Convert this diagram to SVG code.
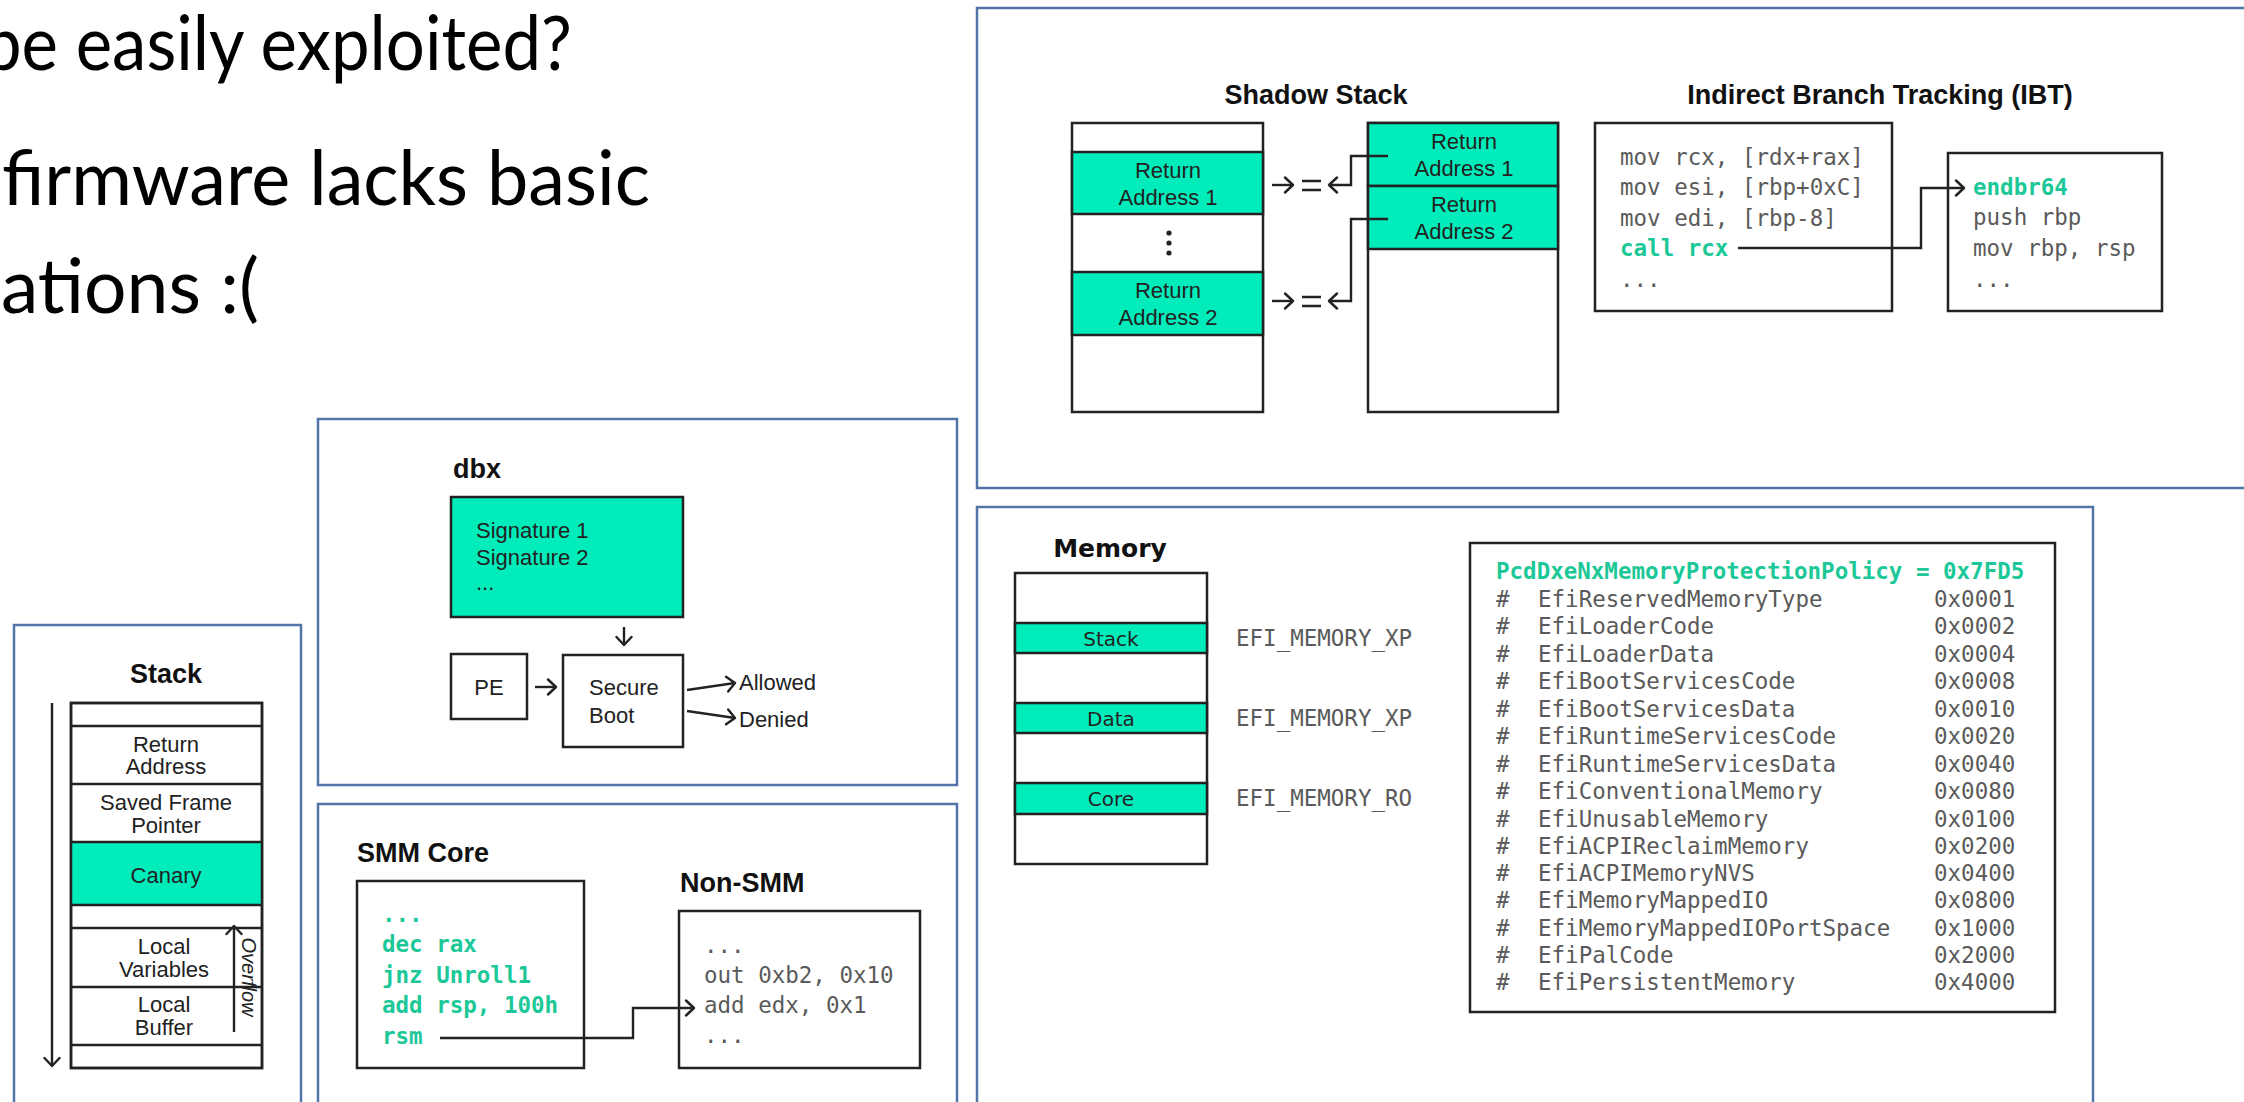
<svg xmlns="http://www.w3.org/2000/svg" width="2244" height="1102" viewBox="0 0 2244 1102">
<defs>
<marker id="arr" viewBox="0 0 16 18" refX="14" refY="9" markerWidth="16" markerHeight="18" markerUnits="userSpaceOnUse" orient="auto">
<path d="M6,1.5 L14,9 L6,16.5" fill="none" stroke="#222" stroke-width="2.4" stroke-linecap="round" stroke-linejoin="round"/>
</marker>
</defs>
<style>
.panel{fill:#fff;stroke:#5374a6;stroke-width:2.5}
.box{fill:#fff;stroke:#222;stroke-width:2.5}
.gbox{fill:#00EDBB;stroke:#222;stroke-width:2.5}
.sep{stroke:#222;stroke-width:2.5}
.big{font-family:Lato,"Open Sans",sans-serif;font-size:76px;fill:#000}
.ttl{font-family:"Liberation Sans",Arial,sans-serif;font-weight:bold;font-size:27px;fill:#111}
.lbl{font-family:"Liberation Sans",Arial,sans-serif;font-size:22px;fill:#222}
.mid{text-anchor:middle}
.mono{font-family:"DejaVu Sans Mono","Liberation Mono",monospace;font-size:22.5px;fill:#5a5a5a}
.gmono{font-family:"DejaVu Sans Mono","Liberation Mono",monospace;font-size:22.5px;font-weight:bold;fill:#1cc897}
.vlbl{font-family:"DejaVu Sans",Verdana,sans-serif;font-size:20px;fill:#222}
.vttl{font-family:"DejaVu Sans",Verdana,sans-serif;font-size:25px;font-weight:bold;fill:#111}
.con{fill:none;stroke:#222;stroke-width:2.4}
</style>
<rect width="2244" height="1102" fill="#fff"/>

<g id="heading">
<text class="big" x="-17" y="70" textLength="589" lengthAdjust="spacingAndGlyphs">be easily exploited?</text>
<text class="big" x="2" y="205" textLength="648" lengthAdjust="spacingAndGlyphs">firmware lacks basic</text>
<text class="big" x="1" y="313" textLength="258" lengthAdjust="spacingAndGlyphs">ations :(</text>
</g>

<g id="panel-stack">
<rect class="panel" x="14" y="625" width="287" height="500"/>
<text class="ttl mid" x="166" y="683">Stack</text>
<rect class="box" x="71" y="703" width="191" height="365"/>
<rect x="71" y="842" width="191" height="63" fill="#00EDBB"/>
<line class="sep" x1="71" y1="726" x2="262" y2="726"/>
<line class="sep" x1="71" y1="784" x2="262" y2="784"/>
<line class="sep" x1="71" y1="842" x2="262" y2="842"/>
<line class="sep" x1="71" y1="905" x2="262" y2="905"/>
<line class="sep" x1="71" y1="928" x2="262" y2="928"/>
<line class="sep" x1="71" y1="987" x2="262" y2="987"/>
<line class="sep" x1="71" y1="1045" x2="262" y2="1045"/>
<rect x="71" y="703" width="191" height="365" fill="none" stroke="#222" stroke-width="2.5"/>
<text class="lbl mid" x="166" y="752">Return</text>
<text class="lbl mid" x="166" y="774">Address</text>
<text class="lbl mid" x="166" y="810">Saved Frame</text>
<text class="lbl mid" x="166" y="833">Pointer</text>
<text class="lbl mid" x="166" y="883">Canary</text>
<text class="lbl mid" x="164" y="954">Local</text>
<text class="lbl mid" x="164" y="977">Variables</text>
<text class="lbl mid" x="164" y="1012">Local</text>
<text class="lbl mid" x="164" y="1035">Buffer</text>
<text transform="translate(242,977) rotate(90)" text-anchor="middle" font-family="Liberation Sans, Arial, sans-serif" font-style="italic" font-size="20" fill="#222">Overflow</text>
</g>

<g id="panel-dbx">
<rect class="panel" x="318" y="419" width="639" height="366"/>
<text class="ttl" x="453" y="478">dbx</text>
<rect class="gbox" x="451" y="497" width="232" height="120"/>
<text class="lbl" x="476" y="538">Signature 1</text>
<text class="lbl" x="476" y="565">Signature 2</text>
<text class="lbl" x="476" y="590" font-size="16">...</text>
<g id="node-pe">
<rect class="box" x="451" y="654" width="76" height="65"/>
<text class="lbl mid" x="489" y="695">PE</text>
</g>
<g id="node-secureboot">
<rect class="box" x="563" y="655" width="120" height="92"/>
<text class="lbl" x="589" y="695">Secure</text>
<text class="lbl" x="589" y="723">Boot</text>
</g>
<text class="lbl" x="739" y="690">Allowed</text>
<text class="lbl" x="739" y="727">Denied</text>
</g>

<g id="panel-smm">
<rect class="panel" x="318" y="804" width="639" height="320"/>
<text class="ttl" x="357" y="862">SMM Core</text>
<rect class="box" x="357" y="881" width="227" height="187"/>
<text class="gmono" x="382" y="922">...</text>
<text class="gmono" x="382" y="952">dec rax</text>
<text class="gmono" x="382" y="983">jnz Unroll1</text>
<text class="gmono" x="382" y="1013">add rsp, 100h</text>
<text class="gmono" x="382" y="1044">rsm</text>
<text class="ttl" x="680" y="892">Non-SMM</text>
<rect class="box" x="679" y="911" width="241" height="157"/>
<text class="mono" x="704" y="953">...</text>
<text class="mono" x="704" y="983">out 0xb2, 0x10</text>
<text class="mono" x="704" y="1013">add edx, 0x1</text>
<text class="mono" x="704" y="1043">...</text>
</g>

<g id="panel-cet">
<rect class="panel" x="977" y="8" width="1290" height="480"/>
<text class="ttl mid" x="1316" y="104">Shadow Stack</text>
<g id="node-stack-left">
<rect class="box" x="1072" y="123" width="191" height="289"/>
<rect class="gbox" x="1072" y="152" width="191" height="62"/>
<rect class="gbox" x="1072" y="272" width="191" height="63"/>
<text class="lbl mid" x="1168" y="178">Return</text>
<text class="lbl mid" x="1168" y="205">Address 1</text>
<circle cx="1169" cy="233" r="2.6" fill="#222"/>
<circle cx="1169" cy="243" r="2.6" fill="#222"/>
<circle cx="1169" cy="253" r="2.6" fill="#222"/>
<text class="lbl mid" x="1168" y="298">Return</text>
<text class="lbl mid" x="1168" y="325">Address 2</text>
</g>
<g id="node-stack-shadow">
<rect class="box" x="1368" y="123" width="190" height="289"/>
<rect class="gbox" x="1368" y="123" width="190" height="63"/>
<rect class="gbox" x="1368" y="186" width="190" height="63"/>
<text class="lbl mid" x="1464" y="149">Return</text>
<text class="lbl mid" x="1464" y="176">Address 1</text>
<text class="lbl mid" x="1464" y="212">Return</text>
<text class="lbl mid" x="1464" y="239">Address 2</text>
</g>
<text class="ttl mid" x="1880" y="104">Indirect Branch Tracking (IBT)</text>
<g id="node-ibt-caller">
<rect class="box" x="1595" y="123" width="297" height="188"/>
<text class="mono" x="1620" y="165">mov rcx, [rdx+rax]</text>
<text class="mono" x="1620" y="195">mov esi, [rbp+0xC]</text>
<text class="mono" x="1620" y="226">mov edi, [rbp-8]</text>
<text class="gmono" x="1620" y="256">call rcx</text>
<text class="mono" x="1620" y="287">...</text>
</g>
<g id="node-ibt-target">
<rect class="box" x="1948" y="153" width="214" height="158"/>
<text class="gmono" x="1973" y="195">endbr64</text>
<text class="mono" x="1973" y="225">push rbp</text>
<text class="mono" x="1973" y="256">mov rbp, rsp</text>
<text class="mono" x="1973" y="287">...</text>
</g>
</g>

<g id="panel-memory">
<rect class="panel" x="977" y="507" width="1116" height="620"/>
<text class="vttl mid" x="1110" y="557">Memory</text>
<g id="node-memory-map">
<rect class="box" x="1015" y="573" width="192" height="291"/>
<rect class="gbox" x="1015" y="623" width="192" height="30"/>
<rect class="gbox" x="1015" y="703" width="192" height="30"/>
<rect class="gbox" x="1015" y="783" width="192" height="31"/>
<text class="vlbl mid" x="1111" y="646">Stack</text>
<text class="vlbl mid" x="1111" y="726">Data</text>
<text class="vlbl mid" x="1111" y="806">Core</text>
</g>
<text class="mono" x="1236" y="646">EFI_MEMORY_XP</text>
<text class="mono" x="1236" y="726">EFI_MEMORY_XP</text>
<text class="mono" x="1236" y="806">EFI_MEMORY_RO</text>
<g id="node-pcd">
<rect class="box" x="1470" y="543" width="585" height="469"/>
<text class="gmono" x="1496" y="579">PcdDxeNxMemoryProtectionPolicy = 0x7FD5</text>
<g class="mono">
<text x="1496" y="607">#</text><text x="1538" y="607">EfiReservedMemoryType</text><text x="1934" y="607">0x0001</text>
<text x="1496" y="634">#</text><text x="1538" y="634">EfiLoaderCode</text><text x="1934" y="634">0x0002</text>
<text x="1496" y="662">#</text><text x="1538" y="662">EfiLoaderData</text><text x="1934" y="662">0x0004</text>
<text x="1496" y="689">#</text><text x="1538" y="689">EfiBootServicesCode</text><text x="1934" y="689">0x0008</text>
<text x="1496" y="717">#</text><text x="1538" y="717">EfiBootServicesData</text><text x="1934" y="717">0x0010</text>
<text x="1496" y="744">#</text><text x="1538" y="744">EfiRuntimeServicesCode</text><text x="1934" y="744">0x0020</text>
<text x="1496" y="772">#</text><text x="1538" y="772">EfiRuntimeServicesData</text><text x="1934" y="772">0x0040</text>
<text x="1496" y="799">#</text><text x="1538" y="799">EfiConventionalMemory</text><text x="1934" y="799">0x0080</text>
<text x="1496" y="827">#</text><text x="1538" y="827">EfiUnusableMemory</text><text x="1934" y="827">0x0100</text>
<text x="1496" y="854">#</text><text x="1538" y="854">EfiACPIReclaimMemory</text><text x="1934" y="854">0x0200</text>
<text x="1496" y="881">#</text><text x="1538" y="881">EfiACPIMemoryNVS</text><text x="1934" y="881">0x0400</text>
<text x="1496" y="908">#</text><text x="1538" y="908">EfiMemoryMappedIO</text><text x="1934" y="908">0x0800</text>
<text x="1496" y="936">#</text><text x="1538" y="936">EfiMemoryMappedIOPortSpace</text><text x="1934" y="936">0x1000</text>
<text x="1496" y="963">#</text><text x="1538" y="963">EfiPalCode</text><text x="1934" y="963">0x2000</text>
<text x="1496" y="990">#</text><text x="1538" y="990">EfiPersistentMemory</text><text x="1934" y="990">0x4000</text>
</g>
</g>
</g>

<g id="connectors">
<path class="con" d="M52,703 V1066" marker-end="url(#arr)"/>
<path class="con" d="M234,1032 V926" marker-end="url(#arr)"/>
<path class="con" d="M624,627 V645" marker-end="url(#arr)"/>
<path class="con" d="M535,687 H556" marker-end="url(#arr)"/>
<path class="con" d="M687,690 L735,683" marker-end="url(#arr)"/>
<path class="con" d="M687,711 L735,718" marker-end="url(#arr)"/>
<path class="con" d="M440,1038 H633 V1008 H694" marker-end="url(#arr)"/>
<path class="con" d="M1272,185 H1293" marker-end="url(#arr)"/>
<path class="con" d="M1302,181 H1321 M1302,190 H1321"/>
<path class="con" d="M1388,156 H1351 V185 H1329" marker-end="url(#arr)"/>
<path class="con" d="M1272,301 H1293" marker-end="url(#arr)"/>
<path class="con" d="M1302,297 H1321 M1302,306 H1321"/>
<path class="con" d="M1388,219 H1351 V301 H1329" marker-end="url(#arr)"/>
<path class="con" d="M1738,248 H1921 V188 H1964" marker-end="url(#arr)"/>
</g>
</svg>
